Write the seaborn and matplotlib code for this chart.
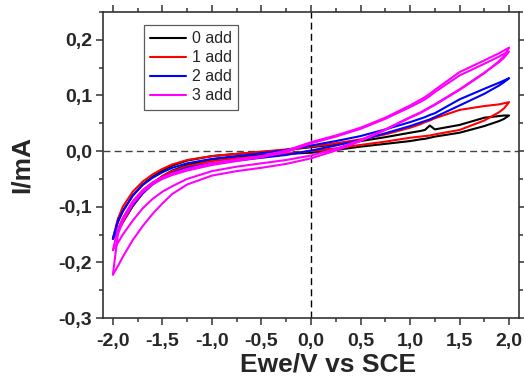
import matplotlib
matplotlib.use("Agg")
import matplotlib.pyplot as plt
import numpy as np
import pandas as pd
import seaborn as sns
from matplotlib.ticker import MultipleLocator, FuncFormatter
from matplotlib.lines import Line2D

# Potential grid (V vs SCE)
E = [-2.0, -1.95, -1.9, -1.8, -1.7, -1.6, -1.5, -1.4, -1.25, -1.0, -0.75, -0.5, -0.25,
     0.0, 0.25, 0.5, 0.75, 1.0, 1.1, 1.15, 1.2, 1.25, 1.5, 1.75, 1.9, 1.95, 2.0]

# 0 add (black)
black_fwd = [-0.158, -0.128, -0.108, -0.080, -0.060, -0.046, -0.035, -0.026, -0.017, -0.009, -0.005, -0.002, 0.002,
             0.007, 0.012, 0.018, 0.025, 0.033, 0.036, 0.038, 0.046, 0.039, 0.047, 0.060, 0.063, 0.064, 0.064]
black_rev = [-0.158, -0.143, -0.128, -0.099, -0.076, -0.058, -0.045, -0.035, -0.025, -0.015, -0.010, -0.007, -0.005,
             -0.003, 0.002, 0.008, 0.013, 0.018, 0.021, 0.022, 0.024, 0.026, 0.033, 0.045, 0.054, 0.058, 0.064]
# 1 add (red)
red_fwd = [-0.158, -0.122, -0.100, -0.073, -0.055, -0.042, -0.032, -0.024, -0.016, -0.009, -0.005, -0.001, 0.003,
           0.008, 0.014, 0.021, 0.030, 0.042, 0.048, 0.052, 0.055, 0.059, 0.074, 0.081, 0.084, 0.086, 0.088]
red_rev = [-0.158, -0.145, -0.128, -0.098, -0.075, -0.058, -0.045, -0.036, -0.027, -0.018, -0.013, -0.009, -0.005,
           0.000, 0.005, 0.011, 0.017, 0.024, 0.026, 0.027, 0.028, 0.030, 0.038, 0.055, 0.070, 0.077, 0.088]
# 2 add (blue)
blue_fwd = [-0.157, -0.125, -0.108, -0.080, -0.061, -0.048, -0.038, -0.030, -0.022, -0.014, -0.009, -0.004, 0.002,
            0.010, 0.018, 0.027, 0.039, 0.052, 0.058, 0.061, 0.065, 0.068, 0.093, 0.112, 0.123, 0.127, 0.131]
blue_rev = [-0.157, -0.142, -0.125, -0.097, -0.076, -0.060, -0.048, -0.039, -0.030, -0.022, -0.017, -0.012, -0.007,
            0.001, 0.010, 0.020, 0.032, 0.045, 0.051, 0.054, 0.057, 0.061, 0.082, 0.103, 0.118, 0.124, 0.131]
# 3 add (magenta), two cycles
mag_a_fwd = [-0.178, -0.140, -0.120, -0.090, -0.070, -0.056, -0.047, -0.040, -0.032, -0.022, -0.015, -0.009, 0.001,
             0.016, 0.028, 0.042, 0.060, 0.082, 0.092, 0.097, 0.103, 0.110, 0.142, 0.163, 0.176, 0.181, 0.186]
mag_a_rev = [-0.222, -0.207, -0.190, -0.160, -0.135, -0.113, -0.094, -0.077, -0.060, -0.044, -0.036, -0.030, -0.023,
             -0.013, 0.001, 0.018, 0.038, 0.060, 0.068, 0.073, 0.078, 0.083, 0.110, 0.140, 0.162, 0.171, 0.186]
mag_b_fwd = [-0.222, -0.150, -0.126, -0.095, -0.074, -0.060, -0.050, -0.043, -0.035, -0.025, -0.018, -0.011, -0.002,
             0.014, 0.026, 0.040, 0.058, 0.079, 0.088, 0.093, 0.099, 0.106, 0.136, 0.157, 0.170, 0.175, 0.179]
mag_b_rev = [-0.178, -0.165, -0.150, -0.125, -0.103, -0.086, -0.073, -0.063, -0.050, -0.036, -0.028, -0.022, -0.016,
             -0.008, 0.004, 0.020, 0.039, 0.061, 0.069, 0.074, 0.079, 0.084, 0.111, 0.141, 0.160, 0.168, 0.179]

series = ["0 add", "1 add", "2 add", "3 add"]
colors = ["#000000", "#ff0000", "#0000ff", "#ff00ff"]

loops = [("0 add", black_fwd, black_rev), ("1 add", red_fwd, red_rev),
         ("2 add", blue_fwd, blue_rev), ("3 add", mag_a_fwd, mag_a_rev),
         ("3 add", mag_b_fwd, mag_b_rev)]

rows = []
for k, (name, fwd, rev) in enumerate(loops):
    step = 0
    for e, v in zip(E, fwd):
        rows.append(dict(E=e, I=v, series=name, loop=k, step=step)); step += 1
    for e, v in zip(E[::-1], rev[::-1]):
        rows.append(dict(E=e, I=v, series=name, loop=k, step=step)); step += 1
df = pd.DataFrame(rows)

sns.set_style("ticks")
plt.rcParams['font.family'] = ['Liberation Sans', 'DejaVu Sans']

fig = plt.figure(figsize=(5.24, 3.79), dpi=100)
ax = fig.add_axes([103/524, 1-318/379, 416/524, 306/379])

ax.axvline(0, color="black", lw=1.0, ls=(0, (5, 3)), zorder=1)
ax.axhline(0, color="#444444", lw=1.0, ls=(0, (5, 3)), zorder=1)

sns.lineplot(data=df, x="E", y="I", hue="series", units="loop", estimator=None, sort=False,
             palette=dict(zip(series, colors)), lw=1.5, ax=ax, legend=False, zorder=3)

ax.set_xlim(-2.1, 2.1)
ax.set_ylim(-0.3, 0.25)
ax.xaxis.set_major_locator(MultipleLocator(0.5))
ax.xaxis.set_minor_locator(MultipleLocator(0.25))
ax.yaxis.set_major_locator(MultipleLocator(0.1))
ax.yaxis.set_minor_locator(MultipleLocator(0.05))

def fmt(v, pos):
    s = f"{v:.1f}"
    if s == "-0.0":
        s = "0.0"
    return s.replace(".", ",")
ax.xaxis.set_major_formatter(FuncFormatter(fmt))
ax.yaxis.set_major_formatter(FuncFormatter(fmt))

spine_c = "#333333"
for sp in ax.spines.values():
    sp.set_visible(True)
    sp.set_color(spine_c)
    sp.set_linewidth(1.2)
ax.tick_params(which="both", direction="out", top=True, right=True, color=spine_c, width=1.1)
ax.tick_params(which="major", length=5)
ax.tick_params(which="minor", length=3)
ax.tick_params(axis="x", which="major", pad=6)
ax.tick_params(axis="y", which="major", pad=3)
for lab in ax.get_xticklabels() + ax.get_yticklabels():
    lab.set_fontsize(14)
    lab.set_fontweight("bold")

ax.set_xlabel("Ewe/V vs SCE", fontsize=19, fontweight="bold")
ax.xaxis.set_label_coords(0.541, -0.112)
ax.set_ylabel("I/mA", fontsize=19, fontweight="bold", labelpad=18)

handles = [Line2D([], [], color=c, lw=1.5) for c in colors]
leg = ax.legend(handles, series, loc="upper left", bbox_to_anchor=(0.0986, 0.9575),
                borderaxespad=0, frameon=True, fancybox=False, fontsize=11.5,
                handlelength=2.2, handletextpad=0.4, labelspacing=0.25, borderpad=0.4)
leg.get_frame().set_edgecolor("#333333")
leg.get_frame().set_linewidth(0.9)

fig.savefig("out.png", dpi=100)
